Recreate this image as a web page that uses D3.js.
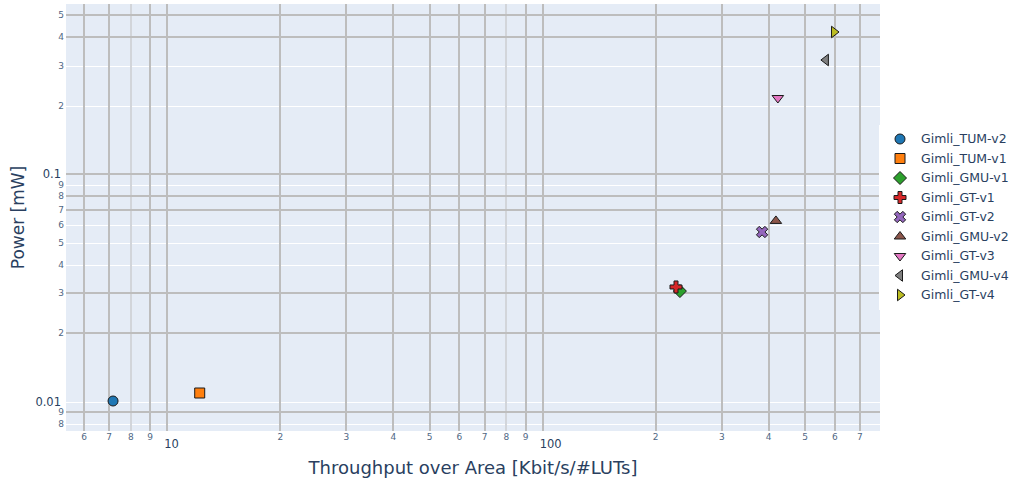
<!DOCTYPE html>
<html><head><meta charset="utf-8">
<script src="https://cdn.jsdelivr.net/npm/d3@7"></script>
<style>body{margin:0;background:#fff}svg{display:block;font-family:"DejaVu Sans",Verdana,sans-serif}</style>
</head><body><svg id="c" width="1016" height="484"></svg>
<script>
// ---- data ----
const names = ["Gimli_TUM-v2","Gimli_TUM-v1","Gimli_GMU-v1","Gimli_GT-v1","Gimli_GT-v2","Gimli_GMU-v2","Gimli_GT-v3","Gimli_GMU-v4","Gimli_GT-v4"];
const throughput = [7.17, 12.2, 232, 226.5, 384, 418, 423, 568, 597];
const power = [0.0101, 0.01095, 0.0307, 0.0320, 0.0558, 0.0624, 0.2163, 0.3177, 0.4217];
const symbols = ["circle","square","diamond","cross","x","triangle-up","triangle-down","triangle-left","triangle-right"];
const colors = ["#1f77b4","#ff7f0e","#2ca02c","#d62728","#9467bd","#8c564b","#e377c2","#7f7f7f","#bcbd22"];
const xTicks = [6,7,8,9,10,20,30,40,50,60,70,80,90,100,200,300,400,500,600,700];
const yTicks = [0.008,0.009,0.01,0.02,0.03,0.04,0.05,0.06,0.07,0.08,0.09,0.1,0.2,0.3,0.4,0.5];
const xTitle = "Throughput over Area [Kbit/s/#LUTs]";
const yTitle = "Power [mW]";
// grid styling groups
const yGray = [0.5,0.4,0.1,0.08,0.07,0.03,0.02,0.009];
const xLight = [8,80];

const L=66,R=880,T=4,B=431;
const svg=d3.select("#c");
const x=d3.scaleLog().domain([5.373,791.5]).range([L,R]);
const y=d3.scaleLog().domain([0.007457,0.5597]).range([B,T]);

svg.append("rect").attr("x",L).attr("y",T).attr("width",R-L).attr("height",B-T).attr("fill","#e5ecf6");

const isMajor=v=>Math.abs(Math.log10(v)-Math.round(Math.log10(v)))<1e-9;
const lead=v=>{const e=Math.floor(Math.log10(v)+1e-9);return Math.round(v/Math.pow(10,e));};
const g=svg.append("g");
yTicks.filter(v=>!yGray.some(a=>Math.abs(a-v)<1e-12)).forEach(v=>{
  g.append("line").attr("x1",L).attr("x2",R).attr("y1",Math.round(y(v))+0.5).attr("y2",Math.round(y(v))+0.5).attr("stroke","#fff").attr("stroke-width",1);
});
xTicks.forEach(v=>{
  const light=xLight.includes(v);
  g.append("line").attr("y1",T).attr("y2",B).attr("x1",Math.round(x(v))).attr("x2",Math.round(x(v)))
   .attr("stroke",light?"#d2d5da":"#bdbdbd").attr("stroke-width",2);
});
yTicks.filter(v=>yGray.some(a=>Math.abs(a-v)<1e-12)).forEach(v=>{
  g.append("line").attr("x1",L).attr("x2",R).attr("y1",Math.round(y(v))).attr("y2",Math.round(y(v))).attr("stroke","#bdbdbd").attr("stroke-width",2);
});

const tc="#506784";
xTicks.forEach(v=>{
  if(isMajor(v)){
    svg.append("text").attr("x",x(v)-3).attr("y",448).attr("font-size",11.5).attr("fill","#2a3f5f").text(v);
  } else {
    svg.append("text").attr("x",x(v)).attr("y",440).attr("text-anchor","middle").attr("font-size",9).attr("fill",tc).text(lead(v));
  }
});
yTicks.forEach(v=>{
  if(isMajor(v)){
    svg.append("text").attr("x",61).attr("y",y(v)+4).attr("text-anchor","end").attr("font-size",11.5).attr("fill","#2a3f5f").text(d3.format("~g")(v));
  } else {
    svg.append("text").attr("x",64).attr("y",y(v)+3).attr("text-anchor","end").attr("font-size",9).attr("fill",tc).text(lead(v));
  }
});

svg.append("text").attr("x",(L+R)/2).attr("y",474).attr("text-anchor","middle").attr("font-size",18).attr("fill","#2a3f5f").text(xTitle);
svg.append("text").attr("transform",`translate(24,${(T+B)/2}) rotate(-90)`).attr("text-anchor","middle").attr("font-size",17).attr("fill","#2a3f5f").text(yTitle);

function sym(name,size){
  const r=size/2, rt=r*2/Math.sqrt(3), r2=r/2;
  switch(name){
    case "circle": return `M${r},0A${r},${r} 0 1,1 0,-${r}A${r},${r} 0 0,1 ${r},0Z`;
    case "square": return `M${r},${r}H-${r}V-${r}H${r}Z`;
    case "diamond": {const d=r*1.3;return `M${d},0L0,${d}L-${d},0L0,-${d}Z`;}
    case "cross": {const a=r*0.4,b=r*1.2;return `M${b},${a}H${a}V${b}H-${a}V${a}H-${b}V-${a}H-${a}V-${b}H${a}V-${a}H${b}Z`;}
    case "x": {const q=r*0.8/Math.SQRT2,ne=`l${q},${q}`,se=`l${q},-${q}`,sw=`l-${q},-${q}`,nw=`l-${q},${q}`;
      return `M0,${q}${ne}${se}${sw}${se}${sw}${nw}${sw}${nw}${ne}${nw}${ne}Z`;}
    case "triangle-up": return `M-${rt},${r2}H${rt}L0,-${r}Z`;
    case "triangle-down": return `M-${rt},-${r2}H${rt}L0,${r}Z`;
    case "triangle-left": return `M${r2},-${rt}V${rt}L-${r},0Z`;
    case "triangle-right": return `M-${r2},-${rt}V${rt}L${r},0Z`;
  }
}
const pts=svg.append("g");
names.forEach((n,i)=>{
  pts.append("path").attr("d",sym(symbols[i],10)).attr("transform",`translate(${x(throughput[i])},${y(power[i])})`)
    .attr("fill",colors[i]).attr("stroke","#1a1a1a").attr("stroke-width",1);
});

const lg=svg.append("g");
lg.append("rect").attr("x",879).attr("y",125).attr("width",137).attr("height",185).attr("fill","#fff");
names.forEach((n,i)=>{
  const yy=139+i*19.5;
  lg.append("path").attr("d",sym(symbols[i],10)).attr("transform",`translate(900,${yy})`).attr("fill",colors[i]).attr("stroke","#1a1a1a").attr("stroke-width",1);
  lg.append("text").attr("x",921).attr("y",yy+4).attr("font-size",12.5).attr("fill","#2a3f5f").text(n);
});
</script></body></html>
